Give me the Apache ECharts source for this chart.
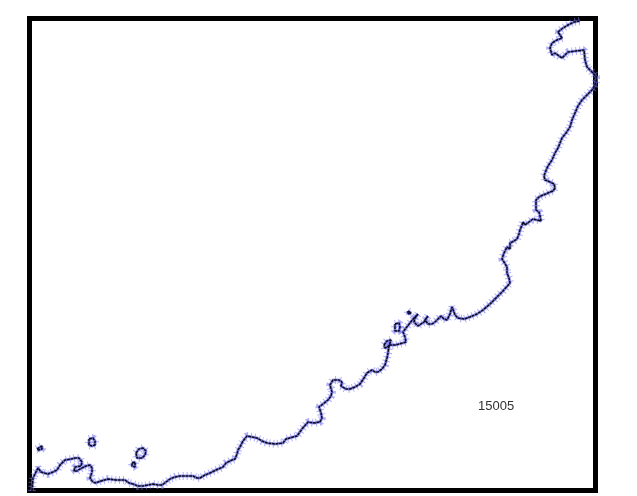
<!DOCTYPE html>
<html><head><meta charset="utf-8">
<script src="https://cdn.jsdelivr.net/npm/echarts@6/dist/echarts.min.js"></script>
<style>html,body{margin:0;padding:0;background:#fff}#c{width:637px;height:496px}</style></head>
<body><div id="c"></div>
<script>
const coast=[[32,491],[33,478],[36,472],[38,468],[41,472],[43,474],[48,474],[53,472],[57,470],[60,465],[62,463],[65,460],[67,459],[71,459],[75,458],[79,458],[82,462],[81,466],[79,468],[75,467],[73,469],[74,471],[77,471],[80,469],[82,468],[86,466],[90,465],[92,468],[92,472],[90,478],[92,481],[95,483],[101,481],[108,479],[116,480],[125,480],[129,483],[133,484],[138,486],[143,486],[148,485],[153,484],[158,485],[162,485],[166,482],[170,479],[175,477],[180,476],[187,476],[193,476],[197,478],[200,478],[205,475],[210,473],[216,470],[223,467],[226,463],[228,461],[232,460],[235,459],[237,454],[238,450],[240,447],[243,441],[247,436],[252,437],[257,438],[262,441],[267,443],[275,444],[283,443],[286,439],[288,437],[293,437],[297,436],[302,429],[308,422],[314,423],[320,422],[322,418],[321,413],[319,407],[323,404],[328,400],[331,396],[332,392],[330,385],[333,380],[335,379],[339,380],[342,382],[341,386],[342,388],[346,389],[350,389],[355,387],[360,384],[364,378],[367,373],[372,370],[375,372],[378,372],[382,369],[385,365],[387,358],[388,353],[389,345],[395,345],[399,344],[403,343],[406,342],[408,342],[405,337],[403,332],[406,328],[410,323],[414,318],[418,314],[415,318],[414,322],[418,326],[420,327],[424,322],[428,316],[425,320],[428,324],[432,324],[435,322],[438,319],[441,316],[444,319],[447,320],[450,314],[452,307],[454,312],[455,315],[458,318],[464,319],[470,317],[477,314],[483,310],[490,304],[497,297],[503,291],[510,283],[509,278],[507,273],[507,267],[504,262],[502,259],[504,253],[507,247],[510,249],[512,248],[510,243],[514,241],[517,239],[519,234],[520,230],[522,225],[523,222],[525,225],[529,222],[533,219],[537,220],[541,221],[540,216],[539,212],[536,210],[535,208],[536,203],[536,200],[539,197],[543,195],[546,194],[550,192],[553,191],[555,188],[554,184],[552,182],[548,181],[545,180],[544,176],[545,173],[548,166],[552,160],[555,153],[558,148],[562,138],[566,133],[570,127],[572,120],[575,113],[578,106],[582,100],[587,95],[592,90],[595,85],[597,78],[593,73],[590,70],[587,67],[585,60],[584,50],[576,51],[568,52],[565,55],[562,58],[559,56],[555,53],[552,55],[550,53],[550,48],[552,43],[557,40],[562,38],[560,35],[558,32],[563,28],[568,25],[574,22],[580,21]];
const islandA=[[37,449],[39,447],[42,446],[44,447],[42,449],[39,450],[37,449]];
const islandB=[[89,439],[93,438],[95,441],[95,445],[92,446],[89,445],[89,439]];
const islandC=[[136,453],[139,449],[143,448],[146,451],[145,455],[142,458],[137,458],[136,453]];
const islandD=[[132,463],[135,462],[137,464],[135,467],[132,466],[132,463]];
const islandE=[[395,324],[399,323],[400,327],[399,331],[395,331],[395,324]];
const islandF=[[408,311],[410,311],[411,313],[410,315],[408,314],[408,311]];
const islandG=[[384,345],[387,341],[391,340],[392,342],[389,346],[385,348],[384,345]];
const labelText='15005';
const rings=[coast,islandA,islandB,islandC,islandD,islandE,islandF,islandG];
const spikes={type:'line',showSymbol:false,silent:true,z:1,lineStyle:{color:'#7c7cf4',width:8,opacity:.6,type:[1,3],cap:'butt'}};
const halo={type:'line',showSymbol:false,silent:true,z:2,lineStyle:{color:'#6a6ae6',width:3.2,opacity:.65}};
const core={type:'line',showSymbol:false,silent:true,z:3,lineStyle:{color:'#08081e',width:1.5,type:[3,0.6]}};
const series=[];
[spikes,halo,core].forEach(s=>rings.forEach(r=>series.push(Object.assign({},s,{data:r}))));
const chart=echarts.init(document.getElementById('c'),null,{renderer:'canvas'});
chart.setOption({
  animation:false,backgroundColor:'#fff',
  grid:{left:29.5,right:41.5,top:18.5,bottom:5.5,show:true,borderColor:'#000',borderWidth:5,backgroundColor:'#fff'},
  xAxis:{type:'value',min:29.5,max:595.5,show:false},
  yAxis:{type:'value',min:18.5,max:490.5,inverse:true,show:false},
  title:{text:labelText,left:473,top:395,textStyle:{fontFamily:'Liberation Sans',fontSize:13,fontWeight:'normal',color:'#333'}},
  series
});
</script></body></html>
